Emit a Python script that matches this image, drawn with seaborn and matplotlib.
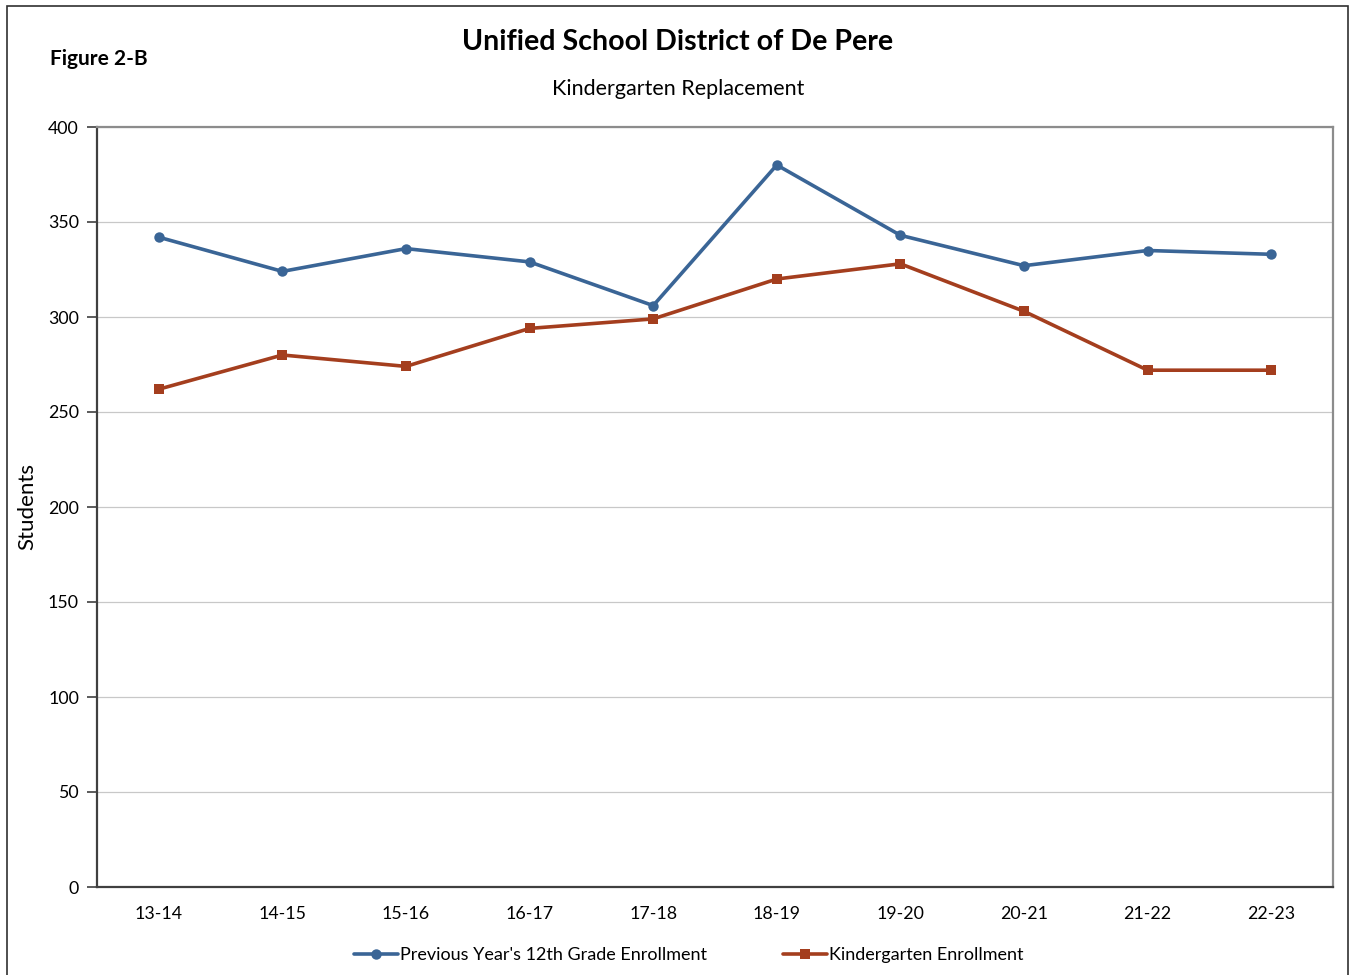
import matplotlib
matplotlib.use("Agg")
import matplotlib.pyplot as plt
from matplotlib.patches import Rectangle
from matplotlib.ticker import FixedLocator, NullFormatter
import seaborn as sns
import pandas as pd

years = ["13-14", "14-15", "15-16", "16-17", "17-18", "18-19", "19-20", "20-21", "21-22", "22-23"]
prev_12th = [342, 324, 336, 329, 306, 380, 343, 327, 335, 333]
kinder = [262, 280, 274, 294, 299, 320, 328, 303, 272, 272]

s1 = "Previous Year's 12th Grade Enrollment"
s2 = "Kindergarten Enrollment"

df = pd.DataFrame({
    "year": years * 2,
    "students": prev_12th + kinder,
    "series": [s1] * len(years) + [s2] * len(years),
})

sns.set_theme(style="white")
plt.rcParams["font.family"] = ["Lato", "DejaVu Sans"]
plt.rcParams["text.color"] = "black"
plt.rcParams["axes.labelcolor"] = "black"
plt.rcParams["xtick.color"] = "black"
plt.rcParams["ytick.color"] = "black"

fig = plt.figure(figsize=(13.51, 9.75), dpi=100)
ax = fig.add_axes([97 / 1351, 1 - 887 / 975, (1333 - 97) / 1351, (887 - 127) / 975])

blue = "#3A6596"
red = "#A43E1E"
sns.lineplot(data=df, x="year", y="students", hue="series", style="series",
             palette={s1: blue, s2: red}, markers={s1: "o", s2: "s"},
             dashes=False, linewidth=2.6, markersize=7.5, markeredgewidth=0,
             ax=ax, sort=False)

ax.set_xlim(-0.5, len(years) - 0.5)
ax.set_ylim(0, 400)
ax.set_yticks(range(0, 401, 50))
ax.yaxis.grid(True, color="#C8C8C8", linewidth=0.9)
ax.xaxis.grid(False)
ax.set_axisbelow(True)

ax.set_xticks(range(len(years)))
ax.set_xticklabels(years)
ax.xaxis.set_minor_locator(FixedLocator([i - 0.5 for i in range(len(years) + 1)]))
ax.xaxis.set_minor_formatter(NullFormatter())
ax.tick_params(axis="x", which="major", length=0, pad=14, labelsize=12.8, labelcolor="black")
ax.tick_params(axis="x", which="minor", length=6, width=1.2, color="#404040", direction="out")
ax.tick_params(axis="y", which="major", length=7, width=1.2, color="#404040",
               direction="out", labelsize=12.8, pad=6, left=True, labelcolor="black")

for side in ["left", "bottom"]:
    ax.spines[side].set_color("#404040")
    ax.spines[side].set_linewidth(1.6)
for side in ["right", "top"]:
    ax.spines[side].set_visible(True)
    ax.spines[side].set_color("#8C8C8C")
    ax.spines[side].set_linewidth(1.6)

ax.set_xlabel("")
ax.set_ylabel("Students", fontsize=16, labelpad=8, color="black")

leg = ax.legend(loc="upper center", bbox_to_anchor=(0.479, -0.058), ncol=2,
                frameon=False, fontsize=13, handlelength=2.4, handletextpad=0.15,
                columnspacing=4.2)
for t in leg.get_texts():
    t.set_color("black")

fig.text(678 / 1351, 1 - 42 / 975, "Unified School District of De Pere",
         ha="center", va="center", fontsize=20.6, fontweight="bold")
fig.text(678 / 1351, 1 - 89 / 975, "Kindergarten Replacement",
         ha="center", va="center", fontsize=15.5)
fig.text(50 / 1351, 1 - 59 / 975, "Figure 2-B",
         ha="left", va="center", fontsize=15, fontweight="bold")

fig.patches.append(Rectangle((7 / 1351, -0.05), (1348 - 7) / 1351, 1 + 0.05 - 6 / 975,
                             transform=fig.transFigure, fill=False,
                             edgecolor="#303030", linewidth=1.2))

fig.savefig("out.png", dpi=100, facecolor="white")
